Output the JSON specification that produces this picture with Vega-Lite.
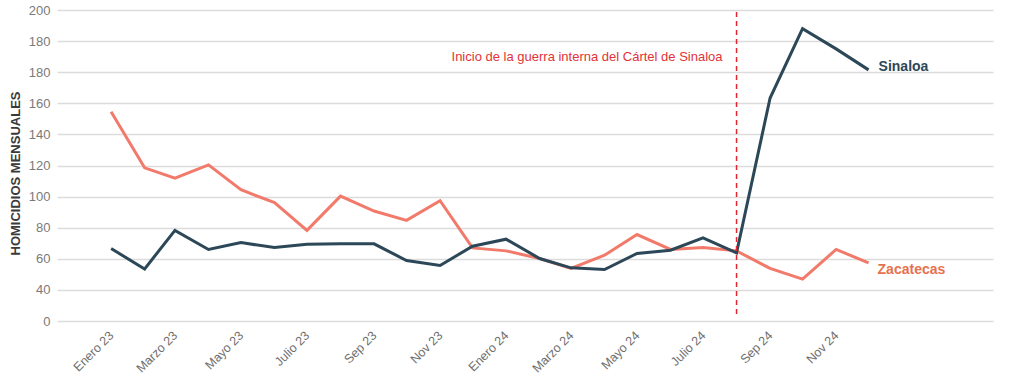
{
  "$schema": "https://vega.github.io/schema/vega-lite/v6.json",
  "autosize": {"type": "none"},
  "width": 936,
  "height": 311,
  "padding": {"left": 57, "top": 10, "right": 16, "bottom": 71},
  "background": "white",
  "config": {
    "view": {"stroke": null},
    "font": "Liberation Sans"
  },
  "datasets": {
    "series": [
      {"date": "2023-01-01", "state": "Zacatecas", "value": 134.6},
      {"date": "2023-02-01", "state": "Zacatecas", "value": 98.5},
      {"date": "2023-03-01", "state": "Zacatecas", "value": 91.9},
      {"date": "2023-04-01", "state": "Zacatecas", "value": 100.4},
      {"date": "2023-05-01", "state": "Zacatecas", "value": 84.4},
      {"date": "2023-06-01", "state": "Zacatecas", "value": 76.1},
      {"date": "2023-07-01", "state": "Zacatecas", "value": 58.3},
      {"date": "2023-08-01", "state": "Zacatecas", "value": 80.3},
      {"date": "2023-09-01", "state": "Zacatecas", "value": 70.7},
      {"date": "2023-10-01", "state": "Zacatecas", "value": 64.7},
      {"date": "2023-11-01", "state": "Zacatecas", "value": 77.4},
      {"date": "2023-12-01", "state": "Zacatecas", "value": 47.0},
      {"date": "2024-01-01", "state": "Zacatecas", "value": 45.1},
      {"date": "2024-02-01", "state": "Zacatecas", "value": 40.2},
      {"date": "2024-03-01", "state": "Zacatecas", "value": 33.8},
      {"date": "2024-04-01", "state": "Zacatecas", "value": 42.3},
      {"date": "2024-05-01", "state": "Zacatecas", "value": 55.6},
      {"date": "2024-06-01", "state": "Zacatecas", "value": 46.0},
      {"date": "2024-07-01", "state": "Zacatecas", "value": 47.2},
      {"date": "2024-08-01", "state": "Zacatecas", "value": 45.1},
      {"date": "2024-09-01", "state": "Zacatecas", "value": 33.8},
      {"date": "2024-10-01", "state": "Zacatecas", "value": 26.9},
      {"date": "2024-11-01", "state": "Zacatecas", "value": 46.0},
      {"date": "2024-12-01", "state": "Zacatecas", "value": 37.4},
      {"date": "2023-01-01", "state": "Sinaloa", "value": 46.6},
      {"date": "2023-02-01", "state": "Sinaloa", "value": 33.5},
      {"date": "2023-03-01", "state": "Sinaloa", "value": 58.3},
      {"date": "2023-04-01", "state": "Sinaloa", "value": 46.0},
      {"date": "2023-05-01", "state": "Sinaloa", "value": 50.4},
      {"date": "2023-06-01", "state": "Sinaloa", "value": 47.2},
      {"date": "2023-07-01", "state": "Sinaloa", "value": 49.4},
      {"date": "2023-08-01", "state": "Sinaloa", "value": 49.6},
      {"date": "2023-09-01", "state": "Sinaloa", "value": 49.6},
      {"date": "2023-10-01", "state": "Sinaloa", "value": 38.9},
      {"date": "2023-11-01", "state": "Sinaloa", "value": 35.7},
      {"date": "2023-12-01", "state": "Sinaloa", "value": 48.1},
      {"date": "2024-01-01", "state": "Sinaloa", "value": 52.6},
      {"date": "2024-02-01", "state": "Sinaloa", "value": 40.2},
      {"date": "2024-03-01", "state": "Sinaloa", "value": 34.2},
      {"date": "2024-04-01", "state": "Sinaloa", "value": 33.1},
      {"date": "2024-05-01", "state": "Sinaloa", "value": 43.4},
      {"date": "2024-06-01", "state": "Sinaloa", "value": 45.5},
      {"date": "2024-07-01", "state": "Sinaloa", "value": 53.4},
      {"date": "2024-08-01", "state": "Sinaloa", "value": 43.8},
      {"date": "2024-09-01", "state": "Sinaloa", "value": 143.4},
      {"date": "2024-10-01", "state": "Sinaloa", "value": 188.0},
      {"date": "2024-11-01", "state": "Sinaloa", "value": 175.0},
      {"date": "2024-12-01", "state": "Sinaloa", "value": 161.5}
    ],
    "events": [
      {"date": "2024-08-01", "label": "Inicio de la guerra interna del Cártel de Sinaloa"}
    ]
  },
  "encoding": {
    "x": {
      "field": "date",
      "type": "temporal",
      "scale": {"type": "utc", "domain": ["2022-11-12", "2025-03-26"]},
      "axis": {
        "title": null,
        "domain": false,
        "ticks": false,
        "grid": false,
        "labelOverlap": false,
        "values": ["2023-01-01", "2023-03-01", "2023-05-01", "2023-07-01", "2023-09-01", "2023-11-01", "2024-01-01", "2024-03-01", "2024-05-01", "2024-07-01", "2024-09-01", "2024-11-01"],
        "labelExpr": "['Enero','Feb','Marzo','Abr','Mayo','Jun','Julio','Ago','Sep','Oct','Nov','Dic'][utcmonth(datum.value)] + ' ' + utcFormat(datum.value, '%y')",
        "labelAngle": -45,
        "labelAlign": "right",
        "labelBaseline": "middle",
        "labelPadding": 12,
        "labelFontSize": 12.5,
        "labelColor": "#6f6f6f"
      }
    },
    "y": {
      "field": "value",
      "type": "quantitative",
      "scale": {"domain": [0, 200], "nice": false},
      "axis": {
        "title": "HOMICIDIOS MENSUALES",
        "titleFontSize": 13,
        "titleFontWeight": "bold",
        "titleColor": "#3a3a3a",
        "titleX": -42,
        "titleY": 163,
        "titleAlign": "center",
        "titleAngle": -90,
        "titleBaseline": "middle",
        "domain": false,
        "ticks": false,
        "labelOverlap": false,
        "values": [0, 20, 40, 60, 80, 100, 120, 140, 160, 180, 200],
        "labelExpr": "datum.value == 0 ? '0' : datum.value <= 140 ? format(datum.value + 20, 'd') : datum.value <= 180 ? '180' : '200'",
        "labelFontSize": 13,
        "labelColor": "#7a7a7a",
        "labelPadding": 7,
        "gridColor": "#dcdcdc",
        "gridWidth": 1.5
      }
    }
  },
  "layer": [
    {
      "data": {"name": "series"},
      "mark": {"type": "line", "strokeWidth": 3, "strokeJoin": "miter"},
      "encoding": {
        "color": {
          "field": "state",
          "type": "nominal",
          "scale": {"domain": ["Sinaloa", "Zacatecas"], "range": ["#2c4858", "#f27a6b"]},
          "legend": null
        }
      }
    },
    {
      "data": {"name": "events"},
      "mark": {"type": "rule", "color": "#e0262f", "strokeWidth": 1.5, "strokeDash": [5, 4], "y": 2, "y2": 308},
      "encoding": {
        "y": {"value": 2}
      }
    },
    {
      "data": {"name": "events"},
      "mark": {"type": "text", "align": "right", "baseline": "middle", "dx": -14, "fontSize": 13, "color": "#e23339"},
      "encoding": {
        "y": {"value": 47},
        "text": {"field": "label"}
      }
    },
    {
      "data": {"name": "series"},
      "transform": [{"filter": "datum.state == 'Sinaloa' && utcFormat(toDate(datum.date), '%Y-%m') == '2024-12'"}],
      "mark": {"type": "text", "align": "left", "baseline": "middle", "dx": 10, "dy": -3, "fontSize": 14, "fontWeight": "bold", "color": "#2c4858"},
      "encoding": {
        "text": {"field": "state"}
      }
    },
    {
      "data": {"name": "series"},
      "transform": [{"filter": "datum.state == 'Zacatecas' && utcFormat(toDate(datum.date), '%Y-%m') == '2024-12'"}],
      "mark": {"type": "text", "align": "left", "baseline": "middle", "dx": 9, "dy": 7, "fontSize": 14, "fontWeight": "bold", "color": "#e6714f"},
      "encoding": {
        "text": {"field": "state"}
      }
    }
  ]
}
